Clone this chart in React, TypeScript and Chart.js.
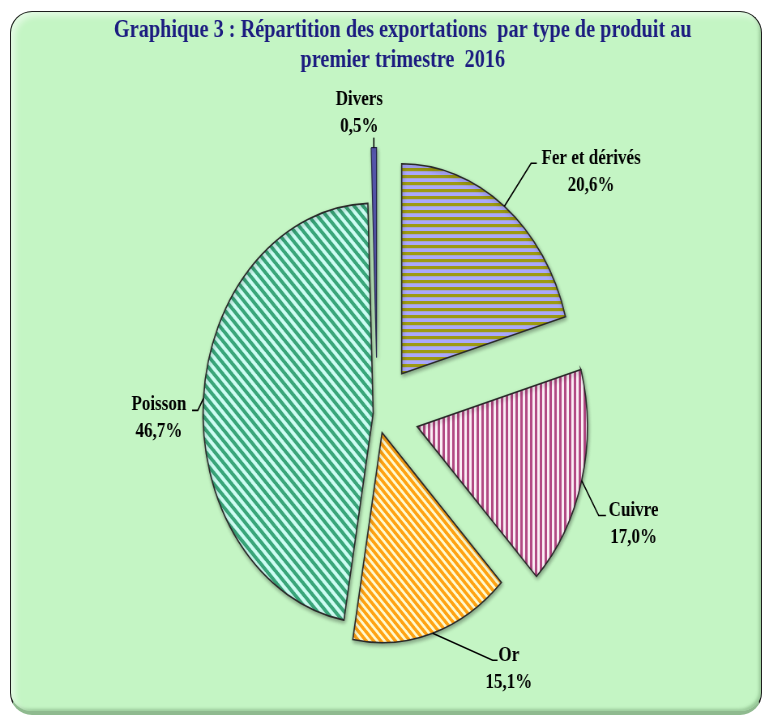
import React, { useEffect, useRef } from 'react';
import { Chart, registerables } from 'chart.js';

Chart.register(...registerables);

// ---- data ----
const categories = ['Fer et dérivés', 'Cuivre', 'Or', 'Poisson', 'Divers'];
const shares = [20.6, 17.0, 15.1, 46.7, 0.5];
const valueLabels = ['20,6%', '17,0%', '15,1%', '46,7%', '0,5%'];
const titleLines = [
  'Graphique 3 : Répartition des exportations  par type de produit au',
  'premier trimestre  2016',
];

// ---- layout / style (unscaled canvas space; canvas is squeezed horizontally) ----
const PAGE_W = 765;
const PAGE_H = 719;
const SX = 0.81;
const CANVAS_W = Math.round(PAGE_W / SX);
const CANVAS_H = PAGE_H;
const CENTER_X = 465.5;
const CENTER_Y = 413.6;
const RADIUS = 210;
const EXPLODE = [50, 51, 20, 5, 56];
const TITLE_X = 497;
const TITLE_Y = 31;
const TITLE_LH = 30;
const LABEL_LH = 27;
const LABEL_LAYOUT = [
  { elbow: [33, -43], tail: 7, text: [107, -48] },
  { elbow: [21, 35], tail: 9, text: [64, 30] },
  { elbow: [74, 27], tail: 6, text: [94, 22] },
  { elbow: [-7, 12], tail: -7, text: [-55, 6] },
  { elbow: [0, -10], tail: 0, text: [-18, -48] },
];

function stripes(kind: string, a: string, b: string, period: number, width: number) {
  const c = document.createElement('canvas');
  c.width = period;
  c.height = period;
  const g = c.getContext('2d')!;
  g.fillStyle = b;
  g.fillRect(0, 0, period, period);
  g.fillStyle = a;
  g.strokeStyle = a;
  if (kind === 'h') {
    g.fillRect(0, 0, period, width);
  } else if (kind === 'v') {
    g.fillRect(0, 0, width, period);
  } else {
    g.lineWidth = width;
    for (const k of [-period, 0, period]) {
      g.beginPath();
      g.moveTo(k - 1, -1);
      g.lineTo(k + period + 1, period + 1);
      g.stroke();
    }
  }
  return g.createPattern(c, 'repeat')!;
}

const explodePlugin = {
  id: 'explodeSlices',
  afterDatasetUpdate(chart: any, args: any) {
    if (args.index !== 0) return;
    const meta = chart.getDatasetMeta(0);
    meta.data.forEach((arc: any, i: number) => {
      const mid = (arc.startAngle + arc.endAngle) / 2;
      arc.x += Math.cos(mid) * EXPLODE[i];
      arc.y += Math.sin(mid) * EXPLODE[i];
    });
  },
};

const labelPlugin = {
  id: 'sliceLabels',
  beforeDatasetsDraw(chart: any) {
    const ctx = chart.ctx;
    ctx.save();
    ctx.shadowColor = 'rgba(0,0,0,0.35)';
    ctx.shadowBlur = 4;
    ctx.shadowOffsetX = 1;
    ctx.shadowOffsetY = 2;
  },
  afterDatasetsDraw(chart: any) {
    const ctx = chart.ctx;
    ctx.restore();
    ctx.save();
    ctx.fillStyle = '#1c1c80';
    ctx.font = 'bold 25px "Liberation Serif", "Times New Roman", serif';
    ctx.textAlign = 'center';
    ctx.textBaseline = 'middle';
    titleLines.forEach((t, i) => ctx.fillText(t, TITLE_X, TITLE_Y + i * TITLE_LH));

    const meta = chart.getDatasetMeta(0);
    ctx.font = 'bold 21px "Liberation Serif", "Times New Roman", serif';
    ctx.strokeStyle = '#000';
    ctx.lineWidth = 1.6;
    meta.data.forEach((arc: any, i: number) => {
      const p = arc.getProps(['x', 'y', 'startAngle', 'endAngle', 'outerRadius'], true);
      const mid = (p.startAngle + p.endAngle) / 2;
      const ax = p.x + Math.cos(mid) * p.outerRadius;
      const ay = p.y + Math.sin(mid) * p.outerRadius;
      const L = LABEL_LAYOUT[i];
      const ex = ax + L.elbow[0];
      const ey = ay + L.elbow[1];
      ctx.beginPath();
      ctx.moveTo(ax, ay);
      ctx.lineTo(ex, ey);
      ctx.lineTo(ex + L.tail, ey);
      ctx.stroke();
      ctx.fillStyle = '#000';
      const tx = ax + L.text[0];
      const ty = ay + L.text[1];
      ctx.fillText(categories[i], tx, ty);
      ctx.fillText(valueLabels[i], tx, ty + LABEL_LH);
    });
    ctx.restore();
  },
};

export default function App() {
  const ref = useRef<HTMLCanvasElement | null>(null);
  useEffect(() => {
    const canvas = ref.current!;
    const fills = [
      stripes('h', '#9d9a12', '#aaa8fc', 7, 3.2),
      stripes('v', '#b24a84', '#fbeef5', 6, 3),
      stripes('d', '#ffa313', '#fffbd2', 9, 3.6),
      stripes('d', '#3aa67a', '#cdfcf2', 11, 4),
      '#5a5ab6',
    ];
    const padX = 2 * CENTER_X - CANVAS_W;
    const padY = 2 * CENTER_Y - CANVAS_H;
    const chart = new Chart(canvas, {
      type: 'pie',
      data: {
        labels: categories,
        datasets: [
          {
            data: shares,
            backgroundColor: fills as any,
            borderColor: ['#2a2a2a', '#2a2a2a', '#2a2a2a', '#2a2a2a', '#26264a'],
            borderWidth: [1.6, 1.6, 1.6, 1.6, 1.2],
            borderJoinStyle: 'miter',
            radius: RADIUS,
          } as any,
        ],
      },
      options: {
        responsive: false,
        animation: false,
        events: [],
        layout: {
          padding: {
            left: Math.max(0, padX),
            right: Math.max(0, -padX),
            top: Math.max(0, padY),
            bottom: Math.max(0, -padY),
          },
        },
        plugins: {
          legend: { display: false },
          tooltip: { enabled: false },
          title: { display: false },
        },
      },
      plugins: [explodePlugin, labelPlugin],
    });
    return () => chart.destroy();
  }, []);

  return (
    <div style={{ position: 'absolute', left: 0, top: 0, width: PAGE_W, height: PAGE_H, background: '#fff', overflow: 'hidden' }}>
      <div
        style={{
          position: 'absolute',
          left: 10,
          top: 11,
          width: 752,
          height: 704,
          boxSizing: 'border-box',
          borderRadius: 22,
          border: '1.5px solid #1e1e1e',
          borderBottom: '4px solid #8fba8f',
          background: '#c4f5c4',
          boxShadow: 'inset 4px 4px 6px rgba(255,255,255,0.55), inset -2px -2px 3px rgba(110,160,110,0.5)',
        }}
      />
      <canvas
        ref={ref}
        width={CANVAS_W}
        height={CANVAS_H}
        style={{ position: 'absolute', left: 0, top: 0, width: PAGE_W + 'px', height: PAGE_H + 'px' }}
      />
    </div>
  );
}
